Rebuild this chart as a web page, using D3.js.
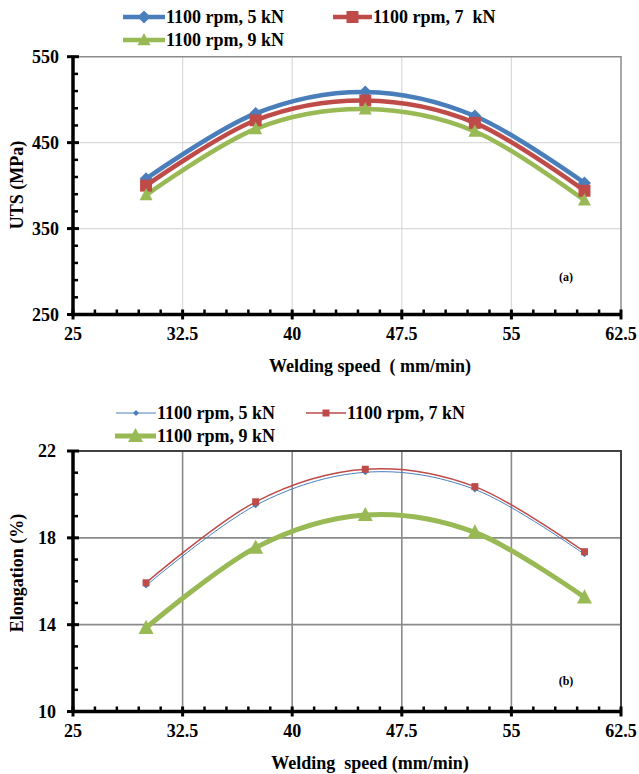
<!DOCTYPE html>
<html>
<head>
<meta charset="utf-8">
<script src="https://cdn.jsdelivr.net/npm/d3@7"></script>
<style>
  html, body { margin: 0; padding: 0; background: #fff; }
  svg { display: block; }
  text { font-family: "Liberation Serif", "Times New Roman", serif; font-weight: bold; fill: #000; white-space: pre; }
</style>
</head>
<body>
<svg id="chart" width="639" height="774"></svg>
<script>
// Welding speed (mm/min) at which the joints were made
const speeds = [30, 37.5, 45, 52.5, 60];
const speedTicks = [25, 32.5, 40, 47.5, 55, 62.5];

// (a) ultimate tensile strength, MPa
const utsSeriesNames = ["1100 rpm, 5 kN", "1100 rpm, 7  kN", "1100 rpm, 9 kN"];
const uts5kN = [408, 484, 509, 481, 403];
const uts7kN = [400, 476, 499, 473, 394];
const uts9kN = [389, 466, 489, 463, 383];
const utsTicks = [250, 350, 450, 550];

// (b) elongation, %
const elongSeriesNames = ["1100 rpm, 5 kN", "1100 rpm, 7 kN", "1100 rpm, 9 kN"];
const elong5kN = [15.8, 19.5, 21.02, 20.23, 17.24];
const elong7kN = [15.93, 19.66, 21.16, 20.36, 17.36];
const elong9kN = [13.85, 17.55, 19.05, 18.25, 15.26];
const elongTicks = [10, 14, 18, 22];

const BLUE = "#4a7ebb", RED = "#be4b48", GREEN = "#98b954";

const svg = d3.select("#chart");

// marker shapes centred on 0,0 with overall size s
function markerPath(shape, s) {
  const h = s / 2;
  if (shape === "diamond") return `M0,${-h}L${h},0L0,${h}L${-h},0Z`;
  if (shape === "square") return `M${-h},${-h}H${h}V${h}H${-h}Z`;
  // triangle
  const t = s * 0.9;
  return `M0,${-t * 0.6}L${h},${t * 0.45}L${-h},${t * 0.45}Z`;
}

function drawPanel(cfg) {
  const g = svg.append("g");
  const x = d3.scaleLinear().domain([25, 62.5]).range([73, 621]);
  const y = d3.scaleLinear().domain(cfg.yDomain).range([cfg.yBottom, cfg.yTop]);

  // gridlines
  g.append("g").selectAll("line").data(speedTicks.slice(1, -1)).join("line")
    .attr("x1", d => x(d)).attr("x2", d => x(d))
    .attr("y1", y(cfg.yDomain[1])).attr("y2", y(cfg.yDomain[0]))
    .attr("stroke", cfg.gridColor).attr("stroke-width", cfg.gridWidth);
  g.append("g").selectAll("line").data(cfg.yTicks.slice(1, -1)).join("line")
    .attr("x1", x(25)).attr("x2", x(62.5))
    .attr("y1", d => y(d)).attr("y2", d => y(d))
    .attr("stroke", cfg.gridColor).attr("stroke-width", cfg.gridWidth);

  // plot frame (top and right)
  g.append("path")
    .attr("d", `M${x(25)},${y(cfg.yDomain[1])}H${x(62.5)}V${y(cfg.yDomain[0])}`)
    .attr("fill", "none").attr("stroke", cfg.frameColor).attr("stroke-width", cfg.frameWidth);

  // minor ticks
  const xMinor = d3.range(25, 62.5 + 0.01, 1.5).filter(v => !speedTicks.some(t => Math.abs(t - v) < 1e-6));
  g.append("g").selectAll("line").data(xMinor).join("line")
    .attr("x1", d => x(d)).attr("x2", d => x(d))
    .attr("y1", y(cfg.yDomain[0])).attr("y2", y(cfg.yDomain[0]) - 5)
    .attr("stroke", "#000").attr("stroke-width", 2.5);
  const yMinor = d3.range(cfg.yDomain[0], cfg.yDomain[1] + 1e-6, cfg.yMinorStep)
    .filter(v => !cfg.yTicks.some(t => Math.abs(t - v) < 1e-6));
  g.append("g").selectAll("line").data(yMinor).join("line")
    .attr("x1", x(25)).attr("x2", x(25) + 5)
    .attr("y1", d => y(d)).attr("y2", d => y(d))
    .attr("stroke", "#000").attr("stroke-width", 2.5);

  // major ticks crossing the axes
  g.append("g").selectAll("line").data(speedTicks).join("line")
    .attr("x1", d => x(d)).attr("x2", d => x(d))
    .attr("y1", y(cfg.yDomain[0]) - 5).attr("y2", y(cfg.yDomain[0]) + 5)
    .attr("stroke", "#000").attr("stroke-width", 3);
  g.append("g").selectAll("line").data(cfg.yTicks).join("line")
    .attr("x1", x(25) - 6).attr("x2", x(25) + 6)
    .attr("y1", d => y(d)).attr("y2", d => y(d))
    .attr("stroke", "#000").attr("stroke-width", 3);

  // axis lines
  g.append("line").attr("x1", x(25)).attr("x2", x(62.5))
    .attr("y1", y(cfg.yDomain[0])).attr("y2", y(cfg.yDomain[0]))
    .attr("stroke", "#000").attr("stroke-width", 3.5);
  g.append("line").attr("x1", x(25)).attr("x2", x(25))
    .attr("y1", y(cfg.yDomain[1]) - 1).attr("y2", y(cfg.yDomain[0]) + 1)
    .attr("stroke", "#000").attr("stroke-width", 3.5);

  // tick labels
  g.append("g").selectAll("text").data(speedTicks).join("text")
    .attr("x", d => x(d)).attr("y", y(cfg.yDomain[0]) + 19)
    .attr("dy", "0.35em").attr("text-anchor", "middle")
    .style("font-size", "18px").text(d => String(d));
  g.append("g").selectAll("text").data(cfg.yTicks).join("text")
    .attr("x", cfg.yLabelX).attr("y", d => y(d))
    .attr("dy", "0.35em").attr("text-anchor", "end")
    .style("font-size", "18px").text(d => String(d));

  // axis titles
  g.append("text").attr("x", cfg.xTitleX).attr("y", y(cfg.yDomain[0]) + 51)
    .attr("dy", "0.35em").attr("text-anchor", "middle")
    .style("font-size", "18px").text(cfg.xTitle);
  g.append("text")
    .attr("transform", `translate(17,${cfg.yTitleY}) rotate(-90)`)
    .attr("dy", "0.35em").attr("text-anchor", "middle")
    .style("font-size", "18px").text(cfg.yTitle);

  // panel tag
  g.append("text").attr("x", 566).attr("y", cfg.tagY)
    .attr("dy", "0.35em").attr("text-anchor", "middle")
    .style("font-size", "12px").text(cfg.tag);

  // series curves and markers
  const line = d3.line()
    .x((d, i) => x(speeds[i])).y(d => y(d))
    .curve(d3.curveCardinal.tension(0));
  cfg.series.forEach(s => {
    g.append("path").attr("d", line(s.values))
      .attr("fill", "none").attr("stroke", s.color)
      .attr("stroke-width", s.width).attr("stroke-linejoin", "round");
  });
  cfg.series.forEach(s => {
    g.append("g").selectAll("path").data(s.values).join("path")
      .attr("transform", (d, i) => `translate(${x(speeds[i])},${y(d)})`)
      .attr("d", markerPath(s.shape, s.size))
      .attr("fill", s.color);
  });

  // legend
  cfg.series.forEach(s => {
    const lg = g.append("g");
    lg.append("line").attr("x1", s.legend[0]).attr("x2", s.legend[1])
      .attr("y1", s.legend[2]).attr("y2", s.legend[2])
      .attr("stroke", s.color).attr("stroke-width", s.width);
    lg.append("path")
      .attr("transform", `translate(${(s.legend[0] + s.legend[1]) / 2},${s.legend[2]})`)
      .attr("d", markerPath(s.shape, s.size)).attr("fill", s.color);
    lg.append("text").attr("x", s.legend[1] + 1).attr("y", s.legend[2])
      .attr("dy", "0.35em").style("font-size", "18px").text(s.name);
  });
}

drawPanel({
  yDomain: [250, 550], yTicks: utsTicks, yMinorStep: 20,
  yTop: 56.7, yBottom: 314.5,
  gridColor: "#d9d9d9", gridWidth: 1.2, frameColor: "#8c8c8c", frameWidth: 1.5,
  yLabelX: 59, xTitle: "Welding speed  ( mm/min)", xTitleX: 370,
  yTitle: "UTS (MPa)", yTitleY: 185, tag: "(a)", tagY: 277,
  series: [
    { name: utsSeriesNames[0], values: uts5kN, color: BLUE, width: 4.5, shape: "diamond", size: 13, legend: [123, 165, 17] },
    { name: utsSeriesNames[1], values: uts7kN, color: RED, width: 4.5, shape: "square", size: 12, legend: [333, 372, 17] },
    { name: utsSeriesNames[2], values: uts9kN, color: GREEN, width: 4.5, shape: "triangle", size: 13, legend: [123, 165, 40] }
  ]
});

drawPanel({
  yDomain: [10, 22], yTicks: elongTicks, yMinorStep: 1,
  yTop: 451, yBottom: 711.5,
  gridColor: "#8a8a8a", gridWidth: 1.6, frameColor: "#404040", frameWidth: 2,
  yLabelX: 56, xTitle: "Welding  speed (mm/min)", xTitleX: 370,
  yTitle: "Elongation (%)", yTitleY: 573, tag: "(b)", tagY: 681,
  series: [
    { name: elongSeriesNames[0], values: elong5kN, color: BLUE, width: 1, shape: "diamond", size: 6, legend: [116, 156, 413] },
    { name: elongSeriesNames[1], values: elong7kN, color: RED, width: 1.5, shape: "square", size: 7, legend: [306, 346, 413] },
    { name: elongSeriesNames[2], values: elong9kN, color: GREEN, width: 5, shape: "triangle", size: 15, legend: [115, 156, 436] }
  ]
});
</script>
</body>
</html>
